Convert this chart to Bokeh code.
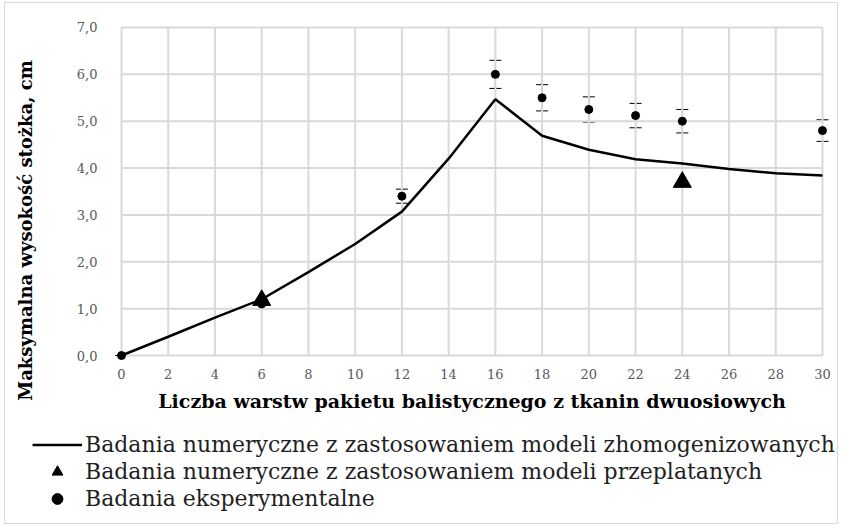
from bokeh.plotting import figure
from bokeh.layouts import column
from bokeh.models import (ColumnDataSource, Range1d, FixedTicker, Whisker, TeeHead,
                          Legend, LegendItem)
from bokeh.embed import file_html
from bokeh.resources import INLINE

# ---- data ----
layers_line = [0, 2, 4, 6, 8, 10, 12, 14, 16, 18, 20, 22, 24, 26, 28, 30]
height_homog = [0.0, 0.40, 0.81, 1.2, 1.78, 2.38, 3.07, 4.2, 5.47, 4.69, 4.39, 4.19, 4.1, 3.98, 3.89, 3.84]

layers_interl = [6, 24]
height_interl = [1.18, 3.7]

layers_exp = [0, 6, 12, 16, 18, 20, 22, 24, 30]
height_exp = [0.0, 1.1, 3.4, 6.0, 5.5, 5.25, 5.12, 5.0, 4.8]
err_exp = [0.0, 0.1, 0.15, 0.3, 0.28, 0.27, 0.26, 0.25, 0.23]

x_ticks = list(range(0, 31, 2))
y_ticks = [0, 1, 2, 3, 4, 5, 6, 7]
y_tick_labels = ["0,0", "1,0", "2,0", "3,0", "4,0", "5,0", "6,0", "7,0"]

x_title = "Liczba warstw pakietu balistycznego z tkanin dwuosiowych"
y_title = "Maksymalna wysokość stożka, cm"
legend_labels = [
    "Badania numeryczne z zastosowaniem modeli zhomogenizowanych",
    "Badania numeryczne z zastosowaniem modeli przeplatanych",
    "Badania eksperymentalne",
]

SERIF = "DejaVu Serif"
GRID = "#d9d9d9"

x_min, x_max = x_ticks[0], x_ticks[-1]
y_min, y_max = y_ticks[0], y_ticks[-1]

# the plot frame fills the whole canvas; axes are pinned at x=0 / y=0
p = figure(width=832, height=520, output_backend="svg", toolbar_location=None,
           x_range=Range1d(-4.964, 30.642), y_range=Range1d(-3.585, 7.512),
           min_border=0)
p.outline_line_color = None
p.xgrid.visible = False
p.ygrid.visible = False

p.xaxis.fixed_location = 0
p.yaxis.fixed_location = 0
p.xaxis.bounds = (0, 30)
p.yaxis.bounds = (-1.66, 7)

p.xaxis.ticker = FixedTicker(ticks=x_ticks)
p.yaxis.ticker = FixedTicker(ticks=y_ticks)
p.yaxis.major_label_overrides = {t: l for t, l in zip(y_ticks, y_tick_labels)}
for ax in (p.xaxis, p.yaxis):
    ax.axis_line_color = None
    ax.major_tick_line_color = None
    ax.minor_tick_line_color = None
    ax.major_tick_in = 0
    ax.major_tick_out = 0
    ax.major_label_text_font = SERIF
    ax.major_label_text_font_size = "13px"
    ax.major_label_text_color = "#595959"
    ax.axis_label_text_font = SERIF
    ax.axis_label_text_font_style = "bold"
    ax.axis_label_text_color = "black"
p.xaxis.axis_label = x_title
p.yaxis.axis_label = y_title
p.xaxis.axis_label_text_font_size = "19px"
p.yaxis.axis_label_text_font_size = "18px"
p.xaxis.major_label_standoff = 13
p.xaxis.axis_label_standoff = 8
p.yaxis.major_label_standoff = 24
p.yaxis.axis_label_standoff = 38

# grid lines drawn from the tick lists, limited to the data box
p.segment(x0=x_ticks, y0=[y_min] * len(x_ticks), x1=x_ticks, y1=[y_max] * len(x_ticks),
          line_color=GRID, line_width=2)
p.segment(x0=[x_min] * len(y_ticks), y0=y_ticks, x1=[x_max] * len(y_ticks), y1=y_ticks,
          line_color=GRID, line_width=2)

# series
r_line = p.line(layers_line, height_homog, line_color="black", line_width=2.5)

src_exp = ColumnDataSource(dict(
    x=layers_exp, y=height_exp,
    lower=[y - e for y, e in zip(height_exp, err_exp)],
    upper=[y + e for y, e in zip(height_exp, err_exp)],
))
whisk = Whisker(source=src_exp, base="x", upper="upper", lower="lower",
                line_color="black", line_width=1,
                upper_head=TeeHead(size=12, line_color="black", line_width=1),
                lower_head=TeeHead(size=12, line_color="black", line_width=1))
p.add_layout(whisk)
r_exp = p.scatter("x", "y", source=src_exp, size=8, color="black")
r_tri = p.scatter(layers_interl, height_interl, marker="triangle", size=18, color="black")

legend = Legend(items=[
    LegendItem(label=legend_labels[0], renderers=[r_line]),
    LegendItem(label=legend_labels[1], renderers=[r_tri]),
    LegendItem(label=legend_labels[2], renderers=[r_exp]),
], location=(27, 11), orientation="vertical")
legend.label_text_font = SERIF
legend.label_text_font_size = "22px"
legend.label_text_color = "#1f1f1f"
legend.glyph_width = 50
legend.glyph_height = 27
legend.label_height = 27
legend.label_standoff = 3
legend.spacing = 0
legend.padding = 0
legend.margin = 0
legend.border_line_color = None
legend.background_fill_alpha = 0
p.add_layout(legend, "center")

page = column(p, spacing=0,
              styles={"border": "1px solid #d9d9d9", "margin-left": "4px", "margin-top": "2px"})

open("out.html", "w").write(file_html(page, INLINE))
